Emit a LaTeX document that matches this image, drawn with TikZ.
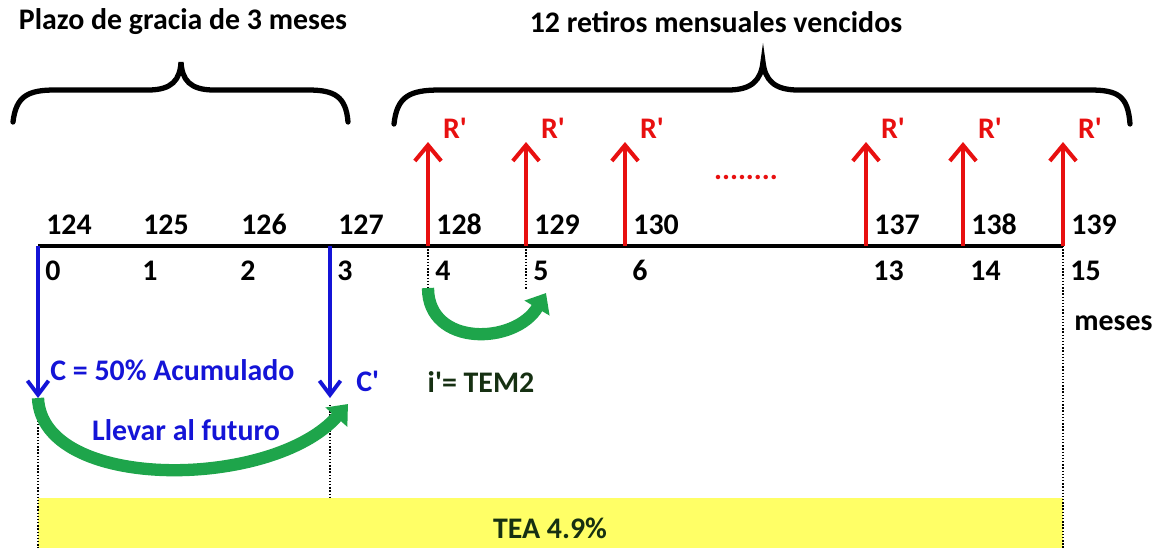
\documentclass[tikz,border=0pt]{standalone}
\usepackage{fontspec}
\setmainfont{Carlito}
\usetikzlibrary{arrows.meta}
\definecolor{rtred}{RGB}{232,16,16}
\definecolor{cblue}{RGB}{20,20,215}
\definecolor{fgreen}{RGB}{30,165,75}
\definecolor{tyellow}{RGB}{255,255,102}
\definecolor{dtext}{RGB}{22,48,18}
\tikzset{
  lbl/.style={font=\bfseries\fontsize{17}{19}\selectfont, inner sep=0pt},
  numlbl/.style={lbl, anchor=base west},
  axisline/.style={line width=2pt},
  retiro/.style={draw=rtred, line width=2.3pt, -{Straight Barb[length=9pt,width=15pt,line width=2.3pt]}},
  cflow/.style={draw=cblue, line width=2.2pt, -{Straight Barb[length=8pt,width=12pt,line width=2.2pt]}},
  futarc/.style={draw=fgreen, line width=7pt, -{Triangle[length=10pt,width=16pt]}},
  guide/.style={densely dotted, line width=0.8pt},
  bracket/.style={line width=3pt, line cap=round}
}
\begin{document}
\begin{tikzpicture}[x=0.02cm,y=-0.02cm]
\useasboundingbox (0,0) rectangle (1159,548);
% yellow band
\fill[tyellow] (38,498) rectangle (1063,548);
\node[lbl, text=dtext] (tea) at (550,528) {TEA 4.9\%};
% titles and braces
\node[lbl] (gracia) at (183,22) {Plazo de gracia de 3 meses};
\node[lbl] (retiros) at (716,22) {12 retiros mensuales vencidos};
\draw[bracket] (13,122) .. controls (16,96) and (28,90) .. (55,90) -- (148,90)
  .. controls (172,90) and (180,80) .. (181,62) .. controls (182,80) and (190,90) .. (214,90)
  -- (308,90) .. controls (334,90) and (346,96) .. (348,122);
\draw[bracket] (394,124) .. controls (397,96) and (410,90) .. (440,90) -- (728,90)
  .. controls (752,90) and (761,80) .. (763,62) .. controls (765,80) and (774,90) .. (798,90)
  -- (1090,90) .. controls (1118,90) and (1128,96) .. (1130,124);
% ticks and labels
\foreach \n/\x/\v in {0/38/124,1/135/125,2/233/126,3/330/127,4/428/128,5/526/129,6/625/130,13/866/137,14/963/138,15/1063/139}{
  \coordinate (t\n) at (\x,246);
  \node[numlbl] (top\n) at (\x+8,234) {\v};
  \node[numlbl] (bot\n) at (\x+7,280) {\n};
}
\node[numlbl] (meses) at (1074,330) {meses};
\draw[axisline] (t0) -- (t15);
% retiros
\foreach \n/\x in {4/428,5/526,6/625,13/866,14/963,15/1063}{
  \coordinate (r\n) at (\x,142);
  \draw[retiro] (t\n) -- (r\n);
  \node[lbl, text=rtred] (rl\n) at (\x+27,128) {R\textquotesingle};
}
\node[lbl, text=rtred] (dots) at (746,177) {........};
% dotted guides
\coordinate (g4) at (428,288);
\coordinate (g5) at (526,290);
\coordinate (g0) at (38,548);
\coordinate (g3) at (330,498);
\coordinate (g15) at (1063,548);
\draw[guide] (t4) -- (g4);
\draw[guide] (t5) -- (g5);
\draw[guide] (t15) -- (g15);
\draw[guide] (38,405) -- (g0);
\draw[guide] (330,405) -- (g3);
% capital
\coordinate (c0) at (38,398);
\coordinate (c3) at (330,398);
\draw[cflow] (t0) -- (c0);
\draw[cflow] (t3) -- (c3);
\node[lbl, text=cblue, anchor=west] (cap) at (50,370) {C = 50\% Acumulado};
\node[lbl, text=cblue, anchor=west] (capf) at (356,381) {C\textquotesingle};
\node[lbl, text=cblue] (llevar) at (186,430) {Llevar al futuro};
\coordinate (e3) at (348,404);
\draw[futarc] (c0) .. controls (42,492) and (272,490) .. (e3);
% tasa mensual
\coordinate (e5) at (546,293);
\draw[futarc] (g4) .. controls (428,347) and (515,345) .. (e5);
\node[lbl, text=dtext] (tem) at (481,382) {i\textquotesingle= TEM2};
\end{tikzpicture}
\end{document}
